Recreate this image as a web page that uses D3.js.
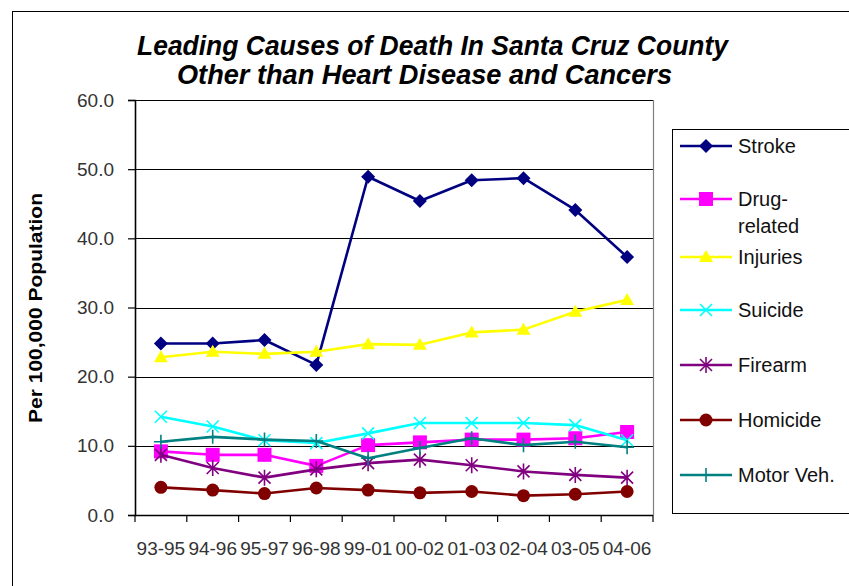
<!DOCTYPE html>
<html>
<head>
<meta charset="utf-8">
<script src="https://cdn.jsdelivr.net/npm/d3@7"></script>
<style>
  html, body { margin: 0; padding: 0; background: #fff; }
  svg { display: block; font-family: "Liberation Sans", Arial, sans-serif; }
</style>
</head>
<body>
<svg id="chart" width="849" height="586"></svg>
<script>
// Three-year periods
const categories = ["93-95", "94-96", "95-97", "96-98", "99-01", "00-02", "01-03", "02-04", "03-05", "04-06"];

// Rates per 100,000 population
const stroke      = [24.8, 24.8, 25.3, 21.7, 48.9, 45.4, 48.4, 48.7, 44.1, 37.3];
const drugRelated = [9.2, 8.7, 8.7, 7.1, 10.1, 10.5, 10.9, 10.9, 11.1, 12.0];
const injuries    = [22.8, 23.6, 23.3, 23.6, 24.7, 24.6, 26.4, 26.8, 29.4, 31.1];
const suicide     = [14.2, 12.8, 10.8, 10.4, 11.8, 13.3, 13.3, 13.3, 13.0, 10.8];
const firearm     = [8.7, 6.8, 5.4, 6.6, 7.5, 8.0, 7.2, 6.3, 5.8, 5.4];
const homicide    = [4.0, 3.6, 3.1, 3.9, 3.6, 3.2, 3.4, 2.8, 3.0, 3.4];
const motorVeh    = [10.6, 11.3, 10.9, 10.7, 8.2, 9.7, 11.1, 10.1, 10.6, 9.8];

const yTicks = [0, 10, 20, 30, 40, 50, 60];

const series = [
  { name: ["Stroke"],           values: stroke,      color: "#000080", marker: "diamond" },
  { name: ["Drug-", "related"], values: drugRelated, color: "#FF00FF", marker: "square" },
  { name: ["Injuries"],         values: injuries,    color: "#FFFF00", marker: "triangle" },
  { name: ["Suicide"],          values: suicide,     color: "#00FFFF", marker: "x" },
  { name: ["Firearm"],          values: firearm,     color: "#800080", marker: "star" },
  { name: ["Homicide"],         values: homicide,    color: "#800000", marker: "circle" },
  { name: ["Motor Veh."],       values: motorVeh,    color: "#008080", marker: "plus" }
];

const svg = d3.select("#chart");

// Outer chart frame
svg.append("rect")
  .attr("x", 12.5).attr("y", 11.5)
  .attr("width", 900).attr("height", 700)
  .attr("fill", "none").attr("stroke", "#000").attr("stroke-width", 1);

const plot = { left: 135, right: 653, top: 100, bottom: 515 };

const x = d3.scaleBand().domain(categories).range([plot.left, plot.right]);
const y = d3.scaleLinear().domain([0, 60]).range([plot.bottom, plot.top]);
const cx = c => x(c) + x.bandwidth() / 2;

// Title
const title = svg.append("g")
  .attr("font-weight", "bold").attr("font-style", "italic")
  .attr("font-size", 27).attr("fill", "#000");
title.append("text").attr("x", 137).attr("y", 55)
  .attr("textLength", 591).attr("lengthAdjust", "spacingAndGlyphs")
  .text("Leading Causes of Death In Santa Cruz County");
title.append("text").attr("x", 177).attr("y", 84)
  .attr("textLength", 495).attr("lengthAdjust", "spacingAndGlyphs")
  .text("Other than Heart Disease and Cancers");

// Horizontal gridlines
svg.append("g").selectAll("line").data(yTicks.filter(d => d > 0)).join("line")
  .attr("x1", plot.left).attr("x2", plot.right)
  .attr("y1", d => Math.round(y(d)) + 0.5).attr("y2", d => Math.round(y(d)) + 0.5)
  .attr("stroke", "#000").attr("stroke-width", 1);

// Right edge of plot area
svg.append("line")
  .attr("x1", plot.right + 0.5).attr("x2", plot.right + 0.5)
  .attr("y1", plot.top).attr("y2", plot.bottom)
  .attr("stroke", "#808080").attr("stroke-width", 1.2);

// Y axis
const yAxis = d3.axisLeft(y).tickValues(yTicks).tickFormat(d3.format(".1f"))
  .tickSize(7).tickPadding(14);
const yg = svg.append("g").attr("transform", `translate(${plot.left},0)`).call(yAxis);
yg.select(".domain").attr("stroke", "#000").attr("stroke-width", 1.6);
yg.selectAll(".tick line").attr("stroke", "#000").attr("stroke-width", 1.2);
yg.selectAll(".tick text")
  .attr("font-size", 19).attr("fill", "#333")
  .attr("font-family", "Liberation Sans, Arial, sans-serif");

// X axis: ticks sit on category boundaries
const boundaries = d3.range(categories.length + 1).map(i => plot.left + i * x.step());
svg.append("line")
  .attr("x1", plot.left).attr("x2", plot.right)
  .attr("y1", plot.bottom + 0.5).attr("y2", plot.bottom + 0.5)
  .attr("stroke", "#000").attr("stroke-width", 1.6);
svg.append("g").selectAll("line").data(boundaries).join("line")
  .attr("x1", d => d).attr("x2", d => d)
  .attr("y1", plot.bottom).attr("y2", plot.bottom + 7)
  .attr("stroke", "#000").attr("stroke-width", 1.2);
svg.append("g").selectAll("text").data(categories).join("text")
  .attr("x", d => cx(d)).attr("y", 555)
  .attr("text-anchor", "middle")
  .attr("font-size", 19).attr("fill", "#333")
  .text(d => d);

// Y axis title
svg.append("text")
  .attr("transform", `translate(42,${(193 + 423) / 2}) rotate(-90)`)
  .attr("text-anchor", "middle")
  .attr("font-size", 19).attr("font-weight", "bold").attr("fill", "#000")
  .attr("textLength", 230).attr("lengthAdjust", "spacingAndGlyphs")
  .text("Per 100,000 Population");

// Marker drawing
function drawMarker(g, type, color) {
  switch (type) {
    case "diamond":
      g.append("path").attr("d", "M0,-7L7,0L0,7L-7,0Z").attr("fill", color);
      break;
    case "square":
      g.append("rect").attr("x", -7).attr("y", -7).attr("width", 14).attr("height", 14).attr("fill", color);
      break;
    case "triangle":
      g.append("path").attr("d", "M0,-7L7,5L-7,5Z").attr("fill", color);
      break;
    case "x":
      g.append("path").attr("d", "M-6,-6L6,6M-6,6L6,-6").attr("stroke", color).attr("stroke-width", 1.6);
      break;
    case "star":
      g.append("path").attr("d", "M-6,-6L6,6M-6,6L6,-6M0,-8L0,8").attr("stroke", color).attr("stroke-width", 1.6);
      break;
    case "circle":
      g.append("circle").attr("r", 6.5).attr("fill", color);
      break;
    case "plus":
      g.append("path").attr("d", "M-7,0L7,0M0,-7L0,7").attr("stroke", color).attr("stroke-width", 1.6);
      break;
  }
}

// Series lines and markers
const line = d3.line().x((d, i) => cx(categories[i])).y(d => y(d));
series.forEach(s => {
  const g = svg.append("g");
  g.append("path").datum(s.values)
    .attr("d", line).attr("fill", "none")
    .attr("stroke", s.color).attr("stroke-width", 2.6).attr("stroke-linejoin", "round");
  s.values.forEach((v, i) => {
    const m = g.append("g").attr("transform", `translate(${cx(categories[i])},${y(v)})`);
    drawMarker(m, s.marker, s.color);
  });
});

// Legend
svg.append("rect")
  .attr("x", 672.5).attr("y", 129.5).attr("width", 250).attr("height", 384)
  .attr("fill", "none").attr("stroke", "#000").attr("stroke-width", 1);
const legendY = [146, 199, 257, 310, 365, 420, 475];
series.forEach((s, i) => {
  const ly = legendY[i];
  const g = svg.append("g");
  g.append("line").attr("x1", 680).attr("x2", 732).attr("y1", ly).attr("y2", ly)
    .attr("stroke", s.color).attr("stroke-width", 2.6);
  const m = g.append("g").attr("transform", `translate(706,${ly})`);
  drawMarker(m, s.marker, s.color);
  s.name.forEach((t, j) => {
    g.append("text").attr("x", 738).attr("y", ly + 7 + j * 27)
      .attr("font-size", 20).attr("fill", "#111").text(t);
  });
});
</script>
</body>
</html>
